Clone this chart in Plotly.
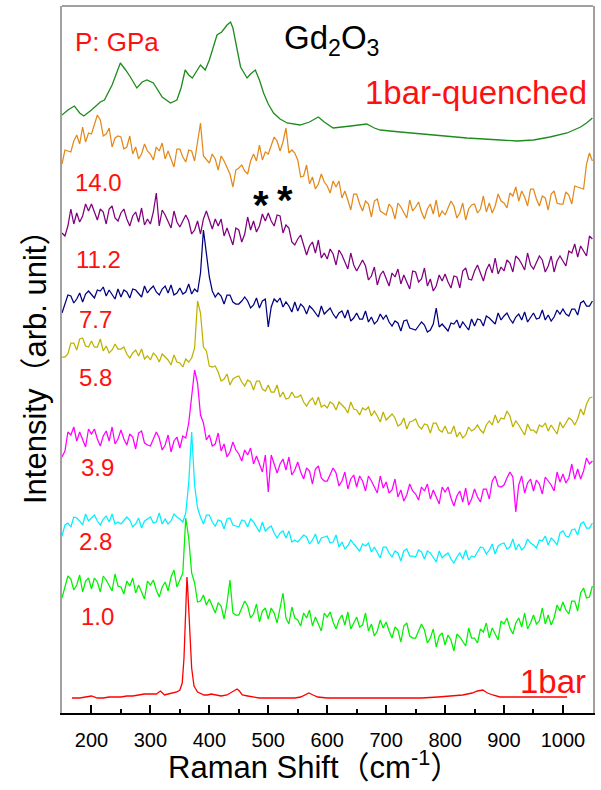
import plotly.graph_objects as go

# Raman shift sampling grid (cm^-1) for the noisy high-pressure spectra
raman_shift = list(range(150, 1051, 5))

int_14_0 = [549,563,562,561,572,578,569,586,571,580,
            579,589,598,593,577,579,585,566,575,577,
            576,564,566,577,559,566,554,559,569,562,
            559,553,566,562,570,554,562,554,546,564,
            564,556,551,563,562,552,569,590,557,553,
            550,559,554,543,557,552,546,539,526,543,
            545,548,542,539,552,559,552,568,553,561,
            559,567,576,572,562,571,585,560,563,560,
            553,536,537,548,529,536,524,529,539,531,
            527,520,532,526,532,515,522,513,503,519,
            519,509,502,512,509,496,512,514,502,500,
            498,509,505,494,510,506,501,495,513,502,
            506,511,501,494,504,509,499,513,496,502,
            498,505,512,507,495,500,510,493,504,508,
            509,500,504,517,501,510,500,507,519,512,
            510,505,520,517,526,512,522,516,507,524,
            524,514,507,517,515,503,519,522,510,509,
            509,521,518,509,527,526,525,524,549,560,
            552]

int_11_2 = [480,477,487,504,489,500,491,497,509,502,
            509,500,493,504,501,489,504,507,495,492,
            500,504,494,487,497,501,491,505,488,494,
            489,501,520,487,503,498,492,485,502,491,
            486,492,498,492,479,483,492,479,494,502,
            494,484,494,487,494,477,485,477,468,485,
            483,471,479,496,483,492,481,487,499,492,
            500,492,487,498,497,480,488,485,471,468,
            474,478,467,458,467,471,460,473,455,460,
            454,464,459,448,463,458,451,444,460,448,
            442,448,453,447,433,437,446,428,438,442,
            434,427,440,436,444,429,438,431,424,442,
            441,431,434,445,427,434,422,427,438,432,
            439,431,425,437,436,425,442,445,434,433,
            442,448,439,432,443,449,440,455,439,446,
            442,453,450,441,457,454,449,443,460,448,
            444,450,457,453,441,447,457,441,452,457,
            452,447,462,460,469,456,467,462,457,477,
            474]

int_7_7 = [400,409,418,417,410,414,420,411,419,422,
           419,415,423,422,426,417,423,419,414,424,
           416,423,421,415,424,423,420,416,427,420,
           424,427,421,418,424,427,420,428,418,420,
           425,419,421,429,419,424,421,440,483,462,
           436,422,416,420,417,409,418,418,411,409,
           409,412,416,412,405,408,415,405,412,414,
           386,406,414,411,415,406,411,407,401,411,
           402,409,406,399,407,404,400,396,407,399,
           402,405,399,395,400,402,395,403,392,395,
           400,394,394,402,391,396,389,392,399,394,
           398,391,387,392,390,382,392,393,385,384,
           383,387,391,388,381,383,389,405,386,389,
           385,382,390,389,393,385,391,387,383,394,
           387,394,393,387,397,395,392,389,400,393,
           397,400,394,390,396,399,393,401,391,395,
           400,394,395,403,393,398,392,396,403,399,
           404,399,397,404,404,398,410,412,407,407,
           412]

int_5_8 = [356,356,359,370,370,363,374,375,367,366,
           372,366,366,374,362,367,360,363,369,364,
           364,366,359,355,360,363,357,364,354,357,
           353,360,357,351,359,356,353,348,358,351,
           350,346,354,351,355,365,412,400,366,362,
           347,346,347,341,332,334,339,328,334,336,
           337,331,327,333,331,323,332,332,324,322,
           328,321,321,328,316,321,314,315,321,316,
           316,318,311,307,312,315,308,316,306,308,
           305,311,309,303,311,308,305,300,311,304,
           303,298,305,303,306,297,302,297,291,301,
           293,296,299,295,287,289,295,284,291,292,
           294,287,284,289,288,280,290,290,283,281,
           287,280,280,287,276,281,275,278,286,282,
           284,288,283,280,288,292,288,298,290,295,
           294,302,297,286,292,288,283,278,289,283,
           283,280,288,286,290,282,288,284,279,291,
           285,290,295,293,288,294,304,298,309,315,
           316]

int_3_9 = [256,262,281,278,286,272,281,274,266,284,
           279,284,274,267,277,282,272,286,269,274,
           283,274,268,279,276,264,280,282,270,268,
           267,274,281,275,263,268,278,261,272,276,
           265,277,275,290,316,343,330,298,290,273,
           278,267,269,280,262,269,256,261,271,263,
           259,252,263,258,265,249,257,249,241,258,
           221,258,248,240,249,254,243,256,238,243,
           251,241,234,245,242,229,244,247,235,232,
           232,238,245,240,227,232,241,224,234,238,
           226,237,232,222,237,232,226,220,237,225,
           231,220,223,234,216,223,212,218,229,222,
           219,213,226,222,229,214,223,216,209,226,
           221,226,215,207,217,222,211,225,208,214,
           224,216,211,224,224,214,232,237,227,226,
           228,235,241,236,201,228,237,220,230,234,
           222,233,229,219,236,232,228,222,241,231,
           239,230,235,249,234,244,234,242,255,249,
           252]

int_2_8 = [177,188,190,186,196,195,192,188,199,192,
           195,198,192,188,194,197,191,199,189,191,
           189,193,196,193,186,189,195,185,192,194,
           196,190,191,200,189,194,189,192,199,196,
           194,191,200,230,281,228,205,196,189,198,
           198,191,187,193,192,184,194,195,188,187,
           186,193,192,186,194,191,186,181,191,182,
           185,187,180,175,180,182,175,182,171,173,
           171,174,178,176,169,173,179,169,175,176,
           177,170,171,178,166,171,164,167,173,169,
           166,162,169,167,170,161,166,161,155,166,
           166,160,156,162,160,152,162,164,157,157,
           156,163,161,154,162,160,156,151,162,155,
           158,160,154,150,156,160,154,163,153,157,
           156,161,166,165,159,163,169,159,167,169,
           170,164,166,174,163,169,163,166,174,170,
           168,165,173,172,177,168,175,172,168,180,
           182,177,176,183,184,178,189,191,185,185,
           190]

int_1_0 = [115,126,137,134,123,128,138,121,132,135,
           124,135,131,121,137,133,128,122,139,127,
           126,119,132,127,135,120,128,121,114,132,
           128,133,123,116,126,131,122,136,143,126,
           134,140,195,175,140,130,111,112,118,108,
           114,106,100,110,107,94,110,133,100,98,
           98,105,112,107,95,99,109,91,102,105,
           94,105,100,90,105,120,95,89,106,95,
           93,87,100,95,103,87,96,89,82,100,
           96,101,91,84,93,98,88,101,84,90,
           96,86,88,100,82,89,77,82,93,85,
           91,82,75,86,83,71,87,90,77,75,
           75,82,89,83,70,75,84,66,77,80,
           68,78,73,62,79,76,72,67,85,75,
           75,70,84,81,90,75,85,79,73,92,
           89,95,85,79,90,95,86,100,84,90,
           98,89,92,105,89,98,88,95,108,102,
           111,103,99,112,112,102,120,125,115,116,
           127]

# 1 bar-quenched spectrum
quenched_shift = [150,160,171,180,187,200,215,222,235,249,258,266,277,286,294,
                  305,320,334,345,352,359,365,371,385,393,400,413,421,430,436,
                  440,447,453,464,470,478,485,492,500,509,520,532,554,570,585,
                  595,610,640,667,680,690,724,780,837,894,922,950,978,1007,1020,
                  1030,1040,1050]
quenched_int = [598,603,607,600,597,603,611,613,628,650,643,636,625,631,633,
                630,616,610,613,625,643,638,635,648,643,653,678,681,688,691,
                685,663,646,635,639,643,633,620,609,600,594,590,588,591,596,
                591,585,587,589,585,583,581,578,575,573,572,573,576,580,583,
                586,590,595]

# 1 bar (ambient) spectrum
bar1_shift = [167,180,190,200,210,220,230,240,250,260,270,280,290,299,310,317,324,330,339,345,
              350,354,357,359,361,362,363,365,367,370,374,380,391,397,403,410,420,430,438,443,
              447,451,456,465,473,485,496,520,545,555,562,569,576,584,600,650,700,730,760,788,
              817,830,846,855,864,872,881,893,920,950,980,1007]
bar1_int = [15,15,16,17,15,15,16,16,16,17,17,18,19,19,19,22,18,19,20,21,
            23,30,55,95,125,136,128,100,70,45,27,21,18,18,19,18,17,18,21,23,
            24,22,18,17,16,15,15,15,15,16,18,20,18,16,15,15,15,15,15,16,
            17,18,20,22,23,20,18,16,16,16,16,16]

x_ticks = [200, 300, 400, 500, 600, 700, 800, 900, 1000]

series = [
    ("1bar", bar1_shift, bar1_int, "#ff0000", 1.3),
    ("1.0", raman_shift, int_1_0, "#00f000", 1.25),
    ("2.8", raman_shift, int_2_8, "#00eeff", 1.25),
    ("3.9", raman_shift, int_3_9, "#ff00ff", 1.25),
    ("5.8", raman_shift, int_5_8, "#bdb200", 1.25),
    ("7.7", raman_shift, int_7_7, "#000080", 1.25),
    ("11.2", raman_shift, int_11_2, "#800080", 1.25),
    ("14.0", raman_shift, int_14_0, "#e3891b", 1.25),
    ("1bar-quenched", quenched_shift, quenched_int, "#1d8c1d", 1.3),
]

fig = go.Figure()
for name, xs, ys, col, w in series:
    fig.add_trace(go.Scatter(x=xs, y=ys, mode="lines", name=name,
                             line=dict(color=col, width=w), showlegend=False))

FONT = "Liberation Sans, Arial, sans-serif"
CJK = "Liberation Sans, Arial, Noto Sans CJK SC, sans-serif"
RED = "#ff1010"

labels = [
    ("14.0", 169, 531), ("11.2", 171, 454), ("7.7", 176, 394), ("5.8", 176, 336),
    ("3.9", 178, 246), ("2.8", 176, 172), ("1.0", 178, 97),
]
ann = []
for t, xx, yy in labels:
    ann.append(dict(x=xx, y=yy, xref="x", yref="y", text=t, showarrow=False,
                    xanchor="left", yanchor="middle",
                    font=dict(family=FONT, size=24, color=RED)))
ann += [
    dict(x=168, y=671, xref="x", yref="y", text="P: GPa", showarrow=False,
         xanchor="left", yanchor="middle", font=dict(family=FONT, size=26, color=RED)),
    dict(x=1045, y=621, xref="x", yref="y", text="1bar-quenched", showarrow=False,
         xanchor="right", yanchor="middle", font=dict(family=FONT, size=33, color=RED)),
    dict(x=(588 - 62) / 531, y=(713 - 681) / 707, xref="paper", yref="paper", text="1bar",
         showarrow=False, xanchor="right", yanchor="middle",
         font=dict(family=FONT, size=33, color=RED)),
    dict(x=524, y=673, xref="x", yref="y", text="Gd<sub>2</sub>O<sub>3</sub>", showarrow=False,
         xanchor="left", yanchor="middle", font=dict(family=FONT, size=33, color="black")),
    dict(x=488, y=508, xref="x", yref="y", text="<b>*</b>", showarrow=False,
         xanchor="center", yanchor="middle", font=dict(family=FONT, size=40, color="black")),
    dict(x=528, y=513, xref="x", yref="y", text="<b>*</b>", showarrow=False,
         xanchor="center", yanchor="middle", font=dict(family=FONT, size=40, color="black")),
    dict(x=(314 - 62) / 531, y=-(765 - 713) / 707, xref="paper", yref="paper",
         text="Raman Shift（cm<sup>-1</sup>）", showarrow=False,
         xanchor="center", yanchor="middle", font=dict(family=CJK, size=31, color="black")),
    dict(x=-(62 - 35) / 531, y=(713 - 360) / 707, xref="paper", yref="paper",
         text="Intensity（arb. unit）", showarrow=False, textangle=-90,
         xanchor="center", yanchor="middle", font=dict(family=CJK, size=31, color="black")),
]

fig.update_layout(
    width=601, height=790,
    margin=dict(l=62, r=8, t=6, b=77),
    paper_bgcolor="white", plot_bgcolor="white",
    annotations=ann,
    shapes=[dict(type="line", xref="paper", yref="paper", x0=0, x1=1, y0=1, y1=1,
                 line=dict(color="#a0a0a0", width=2))],
)
fig.update_xaxes(range=[150, 1051], tickvals=x_ticks, ticktext=[str(v) for v in x_ticks],
                 ticks="inside", ticklen=8, tickwidth=1.5, tickcolor="black",
                 minor=dict(ticks="inside", ticklen=4, tickwidth=1.5, dtick=50, tick0=150,
                            tickcolor="black"),
                 showline=True, linecolor="black", linewidth=2, mirror=False,
                 showgrid=False, zeroline=False, ticklabelstandoff=8,
                 tickfont=dict(family=FONT, size=20, color="black"))
fig.update_yaxes(range=[0, 707], showticklabels=False, ticks="", showgrid=False,
                 zeroline=False, showline=True, linecolor="#a0a0a0", linewidth=2, mirror=True)

fig.write_html("out.html")
